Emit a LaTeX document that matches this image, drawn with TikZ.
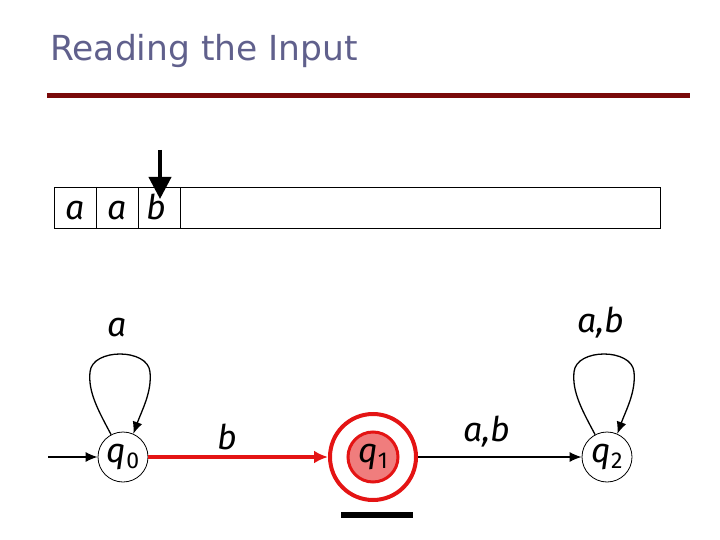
\documentclass[tikz,border=0pt]{standalone}
\usepackage{fontspec}
\setmainfont{DejaVu Sans}
\newfontfamily\comicf{Fira Sans Italic}
\newfontfamily\comicu{Fira Sans}
\usetikzlibrary{arrows.meta}
\definecolor{titleblue}{RGB}{96,96,140}
\definecolor{barred}{RGB}{122,10,10}
\definecolor{stred}{RGB}{228,20,20}
\definecolor{stpink}{RGB}{240,125,125}
\newcommand{\qsub}[1]{q\raisebox{-6pt}{\comicu\fontsize{23}{23}\selectfont #1}}
\begin{document}
\begin{tikzpicture}[x=1pt,y=-1pt,
  lbl/.style={font=\comicf\fontsize{34}{34}\selectfont, inner sep=0pt},
  state/.style={circle, draw, line width=0.8pt, minimum size=50pt, inner sep=0pt, font=\comicf\fontsize{34}{34}\selectfont},
  edge/.style={line width=1.3pt, -{Latex[length=12pt,width=10pt]}},
  redge/.style={line width=3.5pt, stred, -{Latex[length=14pt,width=13pt]}}]
\useasboundingbox (0,0) rectangle (720,540);
% title
\node[anchor=base west, inner sep=0pt, text=titleblue, font=\fontsize{34.5}{35}\selectfont] (title) at (50,61) {Reading the Input};
\draw[barred, line width=5pt] (47,96) -- (690,96);
% tape
\draw[line width=0.8pt] (54,187) rectangle (660,228);
\draw[line width=0.8pt] (96,187) -- (96,228) (138,187) -- (138,228) (180,187) -- (180,228);
\node[lbl, anchor=base] (t1) at (75,219) {a};
\node[lbl, anchor=base] (t2) at (117,219) {a};
\node[lbl, anchor=base] (t3) at (156,219) {b};
% head
\coordinate (hs) at (160,150);
\coordinate (he) at (160,199);
\draw[line width=4pt, -{Triangle[length=22pt,width=22pt]}] (hs) -- (he);
% states
\node[state] (q0) at (123,457) {\qsub{0}};
\node[circle, draw=stred, line width=3pt, fill=stpink, minimum size=50pt, inner sep=0pt, font=\comicf\fontsize{34}{34}\selectfont] (q1) at (373,457) {\qsub{1}};
\node[circle, draw=stred, line width=4pt, minimum size=86pt, inner sep=0pt] (q1o) at (373,457) {};
\node[state] (q2) at (607,457) {\qsub{2}};
% start arrow
\coordinate (st) at (48,457);
\draw[edge] (st) -- (q0);
% transitions
\draw[redge] (q0) -- (q1o);
\node[lbl] (lb) at (227,437) {b};
\draw[edge] (q1o) -- (q2);
\node[lbl] (lab) at (487,432) {a,b};
% loops
\draw[edge] (q0.118) .. controls (98,410) and (88,392) .. (90,372) .. controls (92,348) and (148,348) .. (150,372) .. controls (152,392) and (142,410) .. (q0.66);
\node[lbl] (la) at (117,328) {a};
\draw[edge] (q2.118) .. controls (582,410) and (572,392) .. (574,372) .. controls (576,348) and (632,348) .. (634,372) .. controls (636,392) and (626,410) .. (q2.66);
\node[lbl] (lab2) at (601,323) {a,b};
% bar under q1
\draw[line width=6pt] (341,515) -- (413,515);
\end{tikzpicture}
\end{document}
